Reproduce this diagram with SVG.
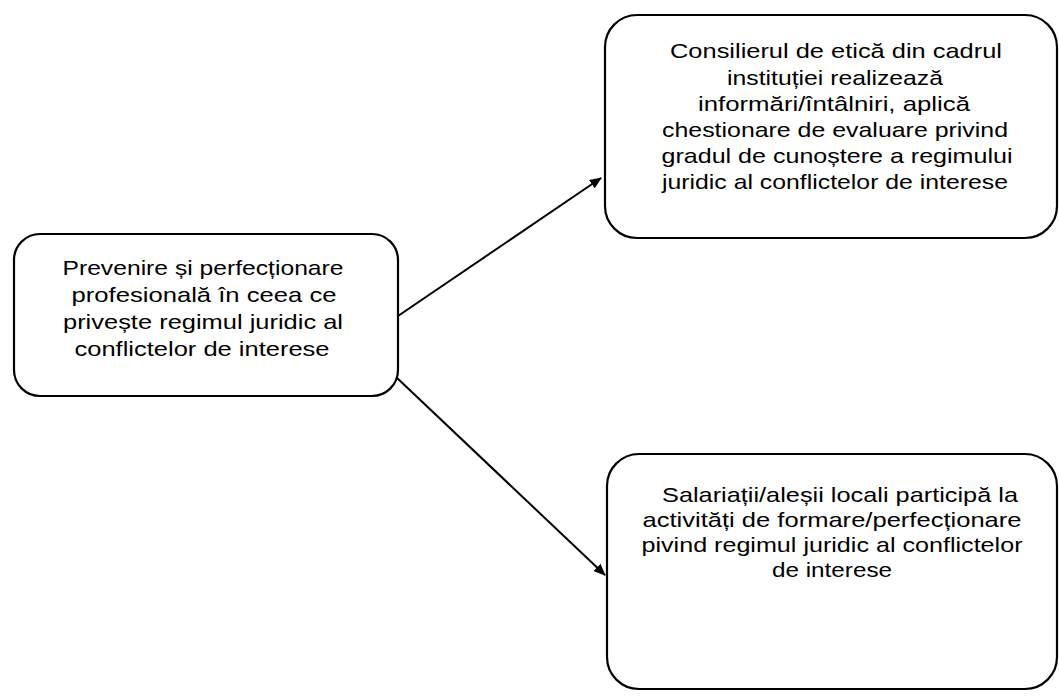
<svg xmlns="http://www.w3.org/2000/svg" width="1059" height="697" viewBox="0 0 1059 697">
<style>
.box{fill:#fff;stroke:#000;stroke-width:2.2}
.t{font-family:"Liberation Sans",Arial,sans-serif;font-size:21px;fill:#000;text-anchor:middle}
.c{stroke:#000;stroke-width:2;fill:none}
</style>
<defs>
<marker id="ah" viewBox="0 0 12 10" refX="11" refY="5" markerWidth="12" markerHeight="10" markerUnits="userSpaceOnUse" orient="auto">
<path d="M0,0 L12,5 L0,10 z" fill="#000"/>
</marker>
</defs>
<rect width="1059" height="697" fill="#fff"/>
<g id="connectors">
<line class="c" x1="398" y1="316" x2="601" y2="178" marker-end="url(#ah)"/>
<line class="c" x1="396" y1="377" x2="605" y2="575" marker-end="url(#ah)"/>
</g>
<g id="node-prevenire">
<rect class="box" x="14" y="234" width="384" height="162" rx="26"/>
<text class="t" x="203" y="275" textLength="281" lengthAdjust="spacingAndGlyphs">Prevenire și perfecționare</text>
<text class="t" x="204" y="302" textLength="265" lengthAdjust="spacingAndGlyphs">profesională în ceea ce</text>
<text class="t" x="203" y="329" textLength="280" lengthAdjust="spacingAndGlyphs">privește regimul juridic al</text>
<text class="t" x="202" y="356" textLength="255" lengthAdjust="spacingAndGlyphs">conflictelor de interese</text>
</g>
<g id="node-consilier">
<rect class="box" x="605" y="15" width="452" height="223" rx="32"/>
<text class="t" x="836" y="58" textLength="332" lengthAdjust="spacingAndGlyphs">Consilierul de etică din cadrul</text>
<text class="t" x="835" y="85" textLength="216" lengthAdjust="spacingAndGlyphs">instituției realizează</text>
<text class="t" x="834" y="111" textLength="272" lengthAdjust="spacingAndGlyphs">informări/întâlniri, aplică</text>
<text class="t" x="835" y="137" textLength="346" lengthAdjust="spacingAndGlyphs">chestionare de evaluare privind</text>
<text class="t" x="837" y="163" textLength="351" lengthAdjust="spacingAndGlyphs">gradul de cunoștere a regimului</text>
<text class="t" x="835" y="189" textLength="346" lengthAdjust="spacingAndGlyphs">juridic al conflictelor de interese</text>
</g>
<g id="node-salariati">
<rect class="box" x="607" y="454" width="450" height="235" rx="32"/>
<text class="t" x="840" y="502" textLength="356" lengthAdjust="spacingAndGlyphs">Salariații/aleșii locali participă la</text>
<text class="t" x="832" y="527" textLength="379" lengthAdjust="spacingAndGlyphs">activități de formare/perfecționare</text>
<text class="t" x="832" y="552" textLength="381" lengthAdjust="spacingAndGlyphs">pivind regimul juridic al conflictelor</text>
<text class="t" x="832" y="577" textLength="120" lengthAdjust="spacingAndGlyphs">de interese</text>
</g>
</svg>
